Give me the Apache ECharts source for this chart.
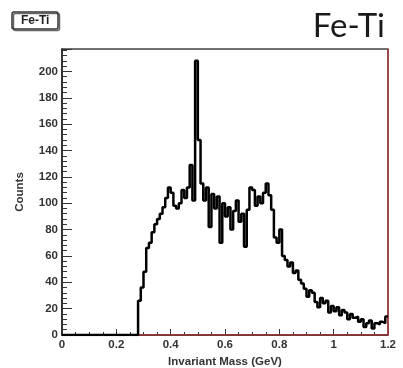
<!DOCTYPE html>
<html>
<head>
<meta charset="utf-8">
<script src="https://cdn.jsdelivr.net/npm/echarts@6/dist/echarts.min.js"></script>
<style>
  html, body { margin: 0; padding: 0; background: #f2f2f2; }
  #feTiChart { width: 403px; height: 368px; }
</style>
</head>
<body>
<div id="feTiChart"></div>
<script>
// histogram: 0.01 GeV bins starting at 0.28 GeV, empty below
var binStart = 0.28;
var binWidth = 0.01;
var counts = [
  26, 36, 48, 66, 70, 78, 84, 88, 92, 97,
  104, 112, 108, 98, 96, 100, 110, 104, 112, 129,
  102, 208, 148, 115, 102, 112, 82, 107, 96, 105,
  70, 100, 90, 97, 80, 94, 102, 86, 92, 67,
  95, 112, 110, 98, 105, 100, 108, 115, 106, 95,
  74, 70, 80, 60, 57, 52, 55, 47, 49, 42,
  39, 35, 29, 34, 32, 25, 21, 28, 24, 26,
  17, 22, 18, 21, 15, 19, 17, 12, 16, 13,
  14, 10, 12, 6, 9, 11, 5, 9, 8, 10,
  9, 14
];
var xRange = [0, 1.2];
var yRange = [0, 217];
var xStep = 0.2;
var yStep = 20;

var histData = [[xRange[0], 0]];
counts.forEach(function (c, i) {
  histData.push([+(binStart + i * binWidth).toFixed(3), c]);
});
histData.push([xRange[1], counts[counts.length - 1]]);

var frameRed = "#b23a3a";
var labelFont = { fontFamily: "Liberation Sans", fontSize: 11.5, fontWeight: "bold", color: "#333" };

var myChart = echarts.init(document.getElementById("feTiChart"), null, { renderer: "canvas" });
var option = {
  backgroundColor: "#fff",
  animation: false,
  title: [
    {
      text: "Fe-Ti",
      left: 12,
      top: 12,
      padding: [3, 9, 2, 9],
      borderWidth: 1.5,
      borderColor: "#333",
      borderRadius: 2,
      shadowColor: "rgba(0,0,0,0.6)",
      shadowOffsetX: 1.5,
      shadowOffsetY: 1.5,
      textStyle: { fontFamily: "Liberation Sans", fontSize: 12, fontWeight: "bold", color: "#222" }
    },
    {
      text: "Fe-Ti",
      right: 18,
      top: 10,
      padding: 0,
      textStyle: { fontFamily: "Lato", fontSize: 33, fontWeight: "normal", color: "#1a1a1a" }
    }
  ],
  grid: {
    left: 62,
    right: 15,
    top: 49,
    bottom: 33,
    outerBoundsMode: "none",
    show: true,
    borderColor: "#444",
    borderWidth: 1.5,
    backgroundColor: "#fff"
  },
  xAxis: {
    type: "value",
    min: xRange[0],
    max: xRange[1],
    interval: xStep,
    name: "Invariant Mass (GeV)",
    nameLocation: "middle",
    nameGap: 17,
    nameTextStyle: labelFont,
    axisLine: { show: true, lineStyle: { color: "#222", width: 1.5 } },
    axisTick: { show: true, inside: true, length: 6, lineStyle: { color: "#333" } },
    minorTick: { show: true, splitNumber: 4, length: 3, lineStyle: { color: "#333" } },
    splitLine: { show: false },
    axisLabel: Object.assign({
      margin: 4,
      formatter: function (v) { return String(+v.toFixed(1)); }
    }, labelFont)
  },
  yAxis: {
    type: "value",
    min: yRange[0],
    max: yRange[1],
    interval: yStep,
    name: "Counts",
    nameLocation: "middle",
    nameGap: 36,
    nameRotate: 90,
    nameTextStyle: labelFont,
    axisLine: { show: true, lineStyle: { color: "#222", width: 1.5 } },
    axisTick: { show: true, inside: true, length: 10, lineStyle: { color: "#333" } },
    minorTick: { show: true, splitNumber: 5, length: 5, lineStyle: { color: "#333" } },
    splitLine: { show: false },
    axisLabel: Object.assign({
      margin: 4,
      showMaxLabel: false
    }, labelFont)
  },
  series: [
    {
      name: "frame",
      type: "line",
      data: [[binStart, 0], [xRange[1], 0], [xRange[1], yRange[1]]],
      symbol: "none",
      z: 3,
      lineStyle: { color: frameRed, width: 1.5 }
    },
    {
      name: "Fe-Ti",
      type: "line",
      step: "end",
      data: histData,
      symbol: "none",
      z: 4,
      lineStyle: { color: "#000", width: 2.5 }
    }
  ]
};
myChart.setOption(option);
</script>
</body>
</html>
